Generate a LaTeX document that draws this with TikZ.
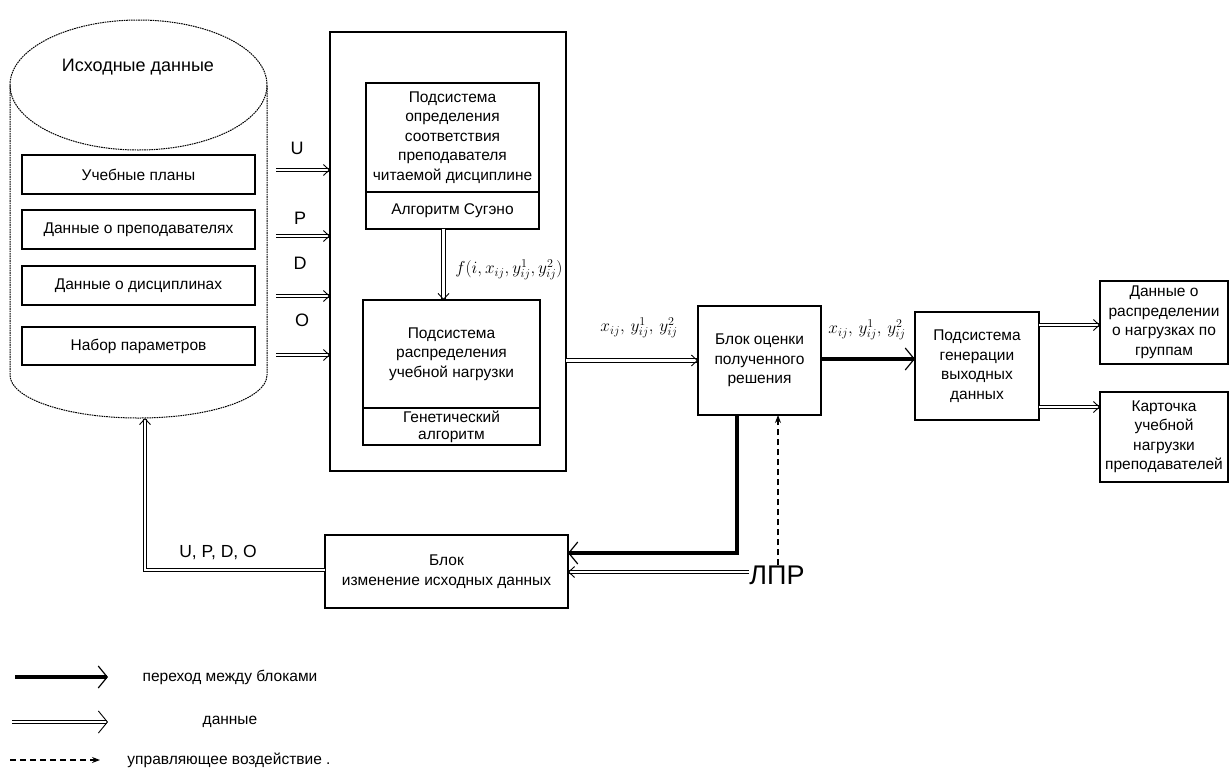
\documentclass[tikz,border=0pt]{standalone}
\usepackage{fontspec}
\setmainfont{Liberation Sans}
\usetikzlibrary{arrows.meta,calc}
\begin{document}
\begin{tikzpicture}[x=1pt,y=-1pt,
  box/.style={draw, line width=1.1pt, inner sep=1pt, outer sep=0pt, align=center,
    font=\fontsize{15.5}{19.5}\selectfont},
  cyl/.style={line width=1pt, dash pattern=on 1.6pt off 0.8pt},
  dat/.style={double=white, double distance=2.6pt, line width=1pt,
    -{Straight Barb[line width=0.9pt,length=6pt,width=11pt]}},
  thk/.style={line width=4.5pt, -{Straight Barb[line width=1.2pt,length=9pt,width=22pt]}},
  ctl/.style={dash pattern=on 6pt off 4pt, line width=1.1pt, -{Stealth[length=8pt,width=6pt]}},
  lbl/.style={inner sep=0pt, font=\fontsize{18}{19}\selectfont},
  mlbl/.style={inner sep=0pt, font=\fontsize{17}{17}\selectfont},
  leg/.style={inner sep=0pt, font=\fontsize{15.5}{17}\selectfont}
]
\useasboundingbox[fill=white] (0,0) rectangle (1231,772);

% cylinder
\draw[cyl] (138.5,85) ellipse [x radius=128.5, y radius=65];
\draw[cyl] (10,85) -- (10,375) arc[start angle=180, end angle=0, x radius=128.5, y radius=43] -- (267,85);
\node[inner sep=0pt, font=\fontsize{18}{19}\selectfont] (src) at (138,67) {Исходные данные};

\node[box, minimum width=233pt, minimum height=39pt] (u) at (138.5,174.5) {Учебные планы};
\node[box, minimum width=233pt, minimum height=39pt] (p) at (138.5,229.5) {Данные о преподавателях};
\node[box, minimum width=233pt, minimum height=39pt] (d) at (138.5,285.5) {Данные о дисциплинах};
\node[box, minimum width=233pt, minimum height=38pt] (o) at (138.5,346) {Набор параметров};
\coordinate (cylbot) at (145,418);

% big box
\node[box, minimum width=236pt, minimum height=439pt] (big) at (448,251.5) {};
\node[box, minimum width=173pt, minimum height=109pt] (sug) at (452.5,137.5)
  {Подсистема\\определения\\соответствия\\преподавателя\\читаемой дисциплине};
\node[box, minimum width=173pt, minimum height=37pt] (sugalg) at (452.5,210.5) {Алгоритм Сугэно};
\node[box, minimum width=177pt, minimum height=108pt] (dist) at (451.5,354)
  {Подсистема\\распределения\\учебной нагрузки};
\node[box, minimum width=177pt, minimum height=37pt, inner sep=0pt,
  font=\fontsize{15.5}{17}\selectfont] (gen) at (451.5,426.5) {Генетический\\алгоритм};

% inputs
\coordinate (iu) at (276,170);
\coordinate (ip) at (276,236);
\coordinate (id) at (276,296);
\coordinate (io) at (276,355);
\draw[dat] (iu) -- (iu -| big.west);
\draw[dat] (ip) -- (ip -| big.west);
\draw[dat] (id) -- (id -| big.west);
\draw[dat] (io) -- (io -| big.west);
\node[lbl] (lu) at (297,148) {U};
\node[lbl] (lp) at (300,218) {P};
\node[lbl] (ld) at (300,263) {D};
\node[lbl] (lo) at (302,320) {O};

\draw[dat] ([xshift=-9pt]sugalg.south) -- ([xshift=-8pt]dist.north);
\node[mlbl] (fl) at (509,270) {$f(i,x_{ij},y^1_{ij},y^2_{ij})$};

% evaluation
\node[box, minimum width=123pt, minimum height=109pt] (eval) at (759.5,360.5)
  {Блок оценки\\полученного\\решения};
\draw[dat] (eval.west -| big.east) -- (eval.west);
\node[mlbl] (xl1) at (639,328) {$x_{ij},\,y^1_{ij},\,y^2_{ij}$};

\node[box, minimum width=124pt, minimum height=108pt] (outgen) at (977,366)
  {Подсистема\\генерации\\выходных\\данных};
\draw[thk] ([yshift=1.5pt]eval.east) -- ([yshift=1.5pt]eval.east -| outgen.west);
\node[mlbl] (xl2) at (867,330) {$x_{ij},\,y^1_{ij},\,y^2_{ij}$};

\node[box, minimum width=128pt, minimum height=83pt] (resA) at (1164,322.5)
  {Данные о\\распределении\\о нагрузках по\\группам};
\node[box, minimum width=128pt, minimum height=90pt] (resB) at (1164,437)
  {Карточка\\учебной\\нагрузки\\преподавателей};
\draw[dat] ([yshift=-2.5pt]resA.west -| outgen.east) -- ([yshift=-2.5pt]resA.west);
\draw[dat] (outgen.east |- 0,407) -- (resB.west |- 0,407);

% change block
\node[box, minimum width=243pt, minimum height=73pt] (change) at (446.5,571.5)
  {Блок\\изменение исходных данных};
\node[inner sep=0pt, font=\fontsize{27}{28}\selectfont] (lpr) at (777,575) {ЛПР};
\draw[thk] ([xshift=-22.5pt]eval.south) |- ([yshift=18.5pt]change.east);
\draw[ctl] ([xshift=18.5pt]eval.south |- lpr.north) -- ([xshift=18.5pt]eval.south);
\draw[dat] ([yshift=3pt]lpr.west) -- ([yshift=3pt]lpr.west -| change.east);
\draw[dat] ([yshift=1.5pt]change.west) -| (cylbot);
\node[inner sep=0pt, font=\fontsize{17.5}{19}\selectfont] (lupdo) at (218,552) {U, P, D, O};

% legend
\coordinate (l1a) at (15,677);
\coordinate (l1b) at (108,677);
\coordinate (l2a) at (12,722);
\coordinate (l2b) at (108,722);
\coordinate (l3a) at (10,760);
\coordinate (l3b) at (100,760);
\draw[thk] (l1a) -- (l1b);
\draw[dat, -{Straight Barb[line width=0.9pt,length=9pt,width=22pt]}] (l2a) -- (l2b);
\draw[ctl] (l3a) -- (l3b);
\node[leg] (t1) at (230,677) {переход между блоками};
\node[leg] (t2) at (230,722) {данные};
\node[leg] (t3) at (229,760) {управляющее воздействие .};
\end{tikzpicture}
\end{document}
